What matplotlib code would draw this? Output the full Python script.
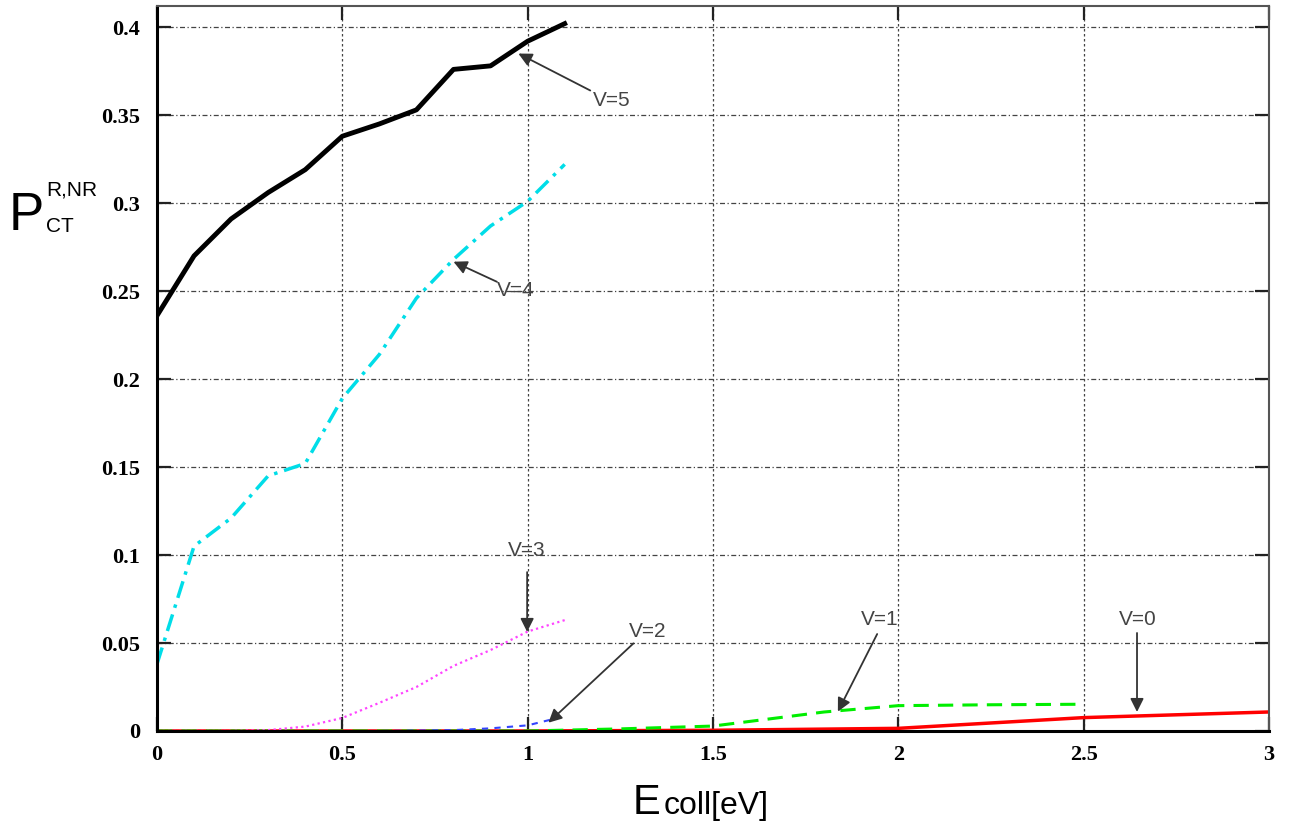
import matplotlib
matplotlib.use('Agg')
import matplotlib.pyplot as plt

# values
x_v5 = [0.0, 0.1, 0.2, 0.3, 0.4, 0.5, 0.6, 0.7, 0.8, 0.9, 1.0, 1.1]
y_v5 = [0.236, 0.270, 0.291, 0.306, 0.319, 0.338, 0.345, 0.353, 0.376, 0.378, 0.392, 0.402]

x_v4 = [0.0, 0.1, 0.2, 0.3, 0.4, 0.5, 0.6, 0.7, 0.8, 0.9, 1.0, 1.1]
y_v4 = [0.038, 0.105, 0.121, 0.145, 0.152, 0.189, 0.214, 0.246, 0.268, 0.287, 0.301, 0.322]

x_v3 = [0.0, 0.1, 0.2, 0.3, 0.4, 0.5, 0.6, 0.7, 0.8, 0.9, 1.0, 1.1]
y_v3 = [0.0, 0.0, 0.0, 0.0005, 0.0025, 0.0074, 0.016, 0.025, 0.037, 0.046, 0.0565, 0.063]

x_v2 = [0.0, 0.2, 0.4, 0.6, 0.8, 0.9, 1.0, 1.06]
y_v2 = [0.0, 0.0, 0.0, 0.0, 0.0005, 0.0015, 0.0032, 0.0063]

x_v1 = [0.0, 0.5, 1.0, 1.25, 1.5, 1.8, 2.0, 2.25, 2.5]
y_v1 = [0.0, 0.0, 0.0, 0.0012, 0.0028, 0.0108, 0.0144, 0.0149, 0.0152]

x_v0 = [0.0, 0.5, 1.0, 1.5, 2.0, 2.5, 3.0]
y_v0 = [0.0, 0.0, 0.0, 0.0004, 0.0015, 0.0076, 0.0108]

x_ticks = [0, 0.5, 1, 1.5, 2, 2.5, 3]
x_tick_labels = ['0', '0.5', '1', '1.5', '2', '2.5', '3']
y_ticks = [0, 0.05, 0.1, 0.15, 0.2, 0.25, 0.3, 0.35, 0.4]
y_tick_labels = ['0', '0.05', '0.1', '0.15', '0.2', '0.25', '0.3', '0.35', '0.4']

# label text, arrow tail, arrow tip (data coords)
labels = ['V=5', 'V=4', 'V=3', 'V=2', 'V=1', 'V=0']
label_pos = [(1.177, 0.3585), (0.918, 0.2506), (0.998, 0.1024),
             (1.3225, 0.0568), (1.951, 0.0631), (2.645, 0.0631)]
label_ha = ['left', 'left', 'center', 'center', 'center', 'center']
arrow_tail = [(1.169, 0.364), (0.917, 0.2553), (0.9987, 0.0903),
              (1.2856, 0.0498), (1.943, 0.0551), (2.644, 0.0557)]
arrow_tip = [(0.975, 0.385), (0.80, 0.2667), (0.9987, 0.0563),
             (1.056, 0.0047), (1.837, 0.011), (2.644, 0.0108)]


def main():
    fig = plt.figure(figsize=(12.95, 8.27), dpi=100)
    ax = fig.add_axes([0.1212, 0.1161, 0.8587, 0.8766])

    ax.plot(x_v0, y_v0, color='#ff0000', lw=2.5, solid_capstyle='butt')
    ax.plot(x_v1, y_v1, color='#00ee00', lw=2.2, linestyle=(0, (5, 3)))
    ax.plot(x_v2, y_v2, color='#3344ff', lw=1.5, linestyle=(0, (3, 3)))
    ax.plot(x_v3, y_v3, color='#ff44ff', lw=1.6, linestyle=(0, (1, 1.5)))
    ax.plot(x_v4, y_v4, color='#00dde8', lw=2.5, linestyle=(0, (5, 2, 1, 2)))
    ax.plot(x_v5, y_v5, color='black', lw=3.5)

    ax.set_xlim(0, 3)
    ax.set_ylim(0, 0.412)

    ax.set_xticks(x_ticks)
    ax.set_xticklabels(x_tick_labels)
    ax.set_yticks(y_ticks)
    ax.set_yticklabels(y_tick_labels)
    for lab in ax.get_xticklabels() + ax.get_yticklabels():
        lab.set_fontfamily('Liberation Serif')
        lab.set_fontweight('bold')
        lab.set_fontsize(16)
    ax.tick_params(direction='in', length=10, width=1.6, top=True, right=True,
                   color='#222222')
    ax.tick_params(axis='x', pad=10)
    ax.tick_params(axis='y', pad=12)

    # gridlines: dash-dot horizontally, dotted vertically
    for yv in y_ticks[1:]:
        ax.axhline(yv, color='#444444', lw=0.9, linestyle=(0, (4, 2, 1, 2)), zorder=0.5)
    for xv in x_ticks[1:-1]:
        ax.axvline(xv, color='#444444', lw=0.9, linestyle=(0, (2, 2)), zorder=0.5)

    for side in ['left', 'bottom']:
        ax.spines[side].set_linewidth(2.2)
        ax.spines[side].set_color('black')
    for side in ['top', 'right']:
        ax.spines[side].set_linewidth(1.5)
        ax.spines[side].set_color('#555555')

    for text, pos, ha, tail, tip in zip(labels, label_pos, label_ha, arrow_tail, arrow_tip):
        ax.annotate('', xy=tip, xytext=tail,
                    arrowprops=dict(arrowstyle='-|>', mutation_scale=20, color='#333333',
                                    lw=1.3, shrinkA=0, shrinkB=0))
        ax.text(pos[0], pos[1], text, ha=ha, va='center', fontsize=15,
                color='#444444', family='Liberation Sans')

    # y label P^{R,NR}_{CT}
    fig.text(9 / 1295, 1 - 230 / 827, 'P', fontsize=38, family='Liberation Sans',
             va='baseline', ha='left')
    fig.text(46 / 1295, 1 - 195 / 827, 'R,NR', fontsize=15, family='Liberation Sans',
             va='baseline', ha='left')
    fig.text(46 / 1295, 1 - 232 / 827, 'CT', fontsize=15, family='Liberation Sans',
             va='baseline', ha='left')

    # x label E_coll[eV]
    fig.text(633 / 1295, 1 - 814 / 827, 'E', fontsize=30, family='Liberation Sans',
             va='baseline', ha='left')
    fig.text(664 / 1295, 1 - 814 / 827, 'coll[eV]', fontsize=23, family='Liberation Sans',
             va='baseline', ha='left')

    fig.savefig('out.png', dpi=100)
    plt.close(fig)


if __name__ == "__main__":
    main()
